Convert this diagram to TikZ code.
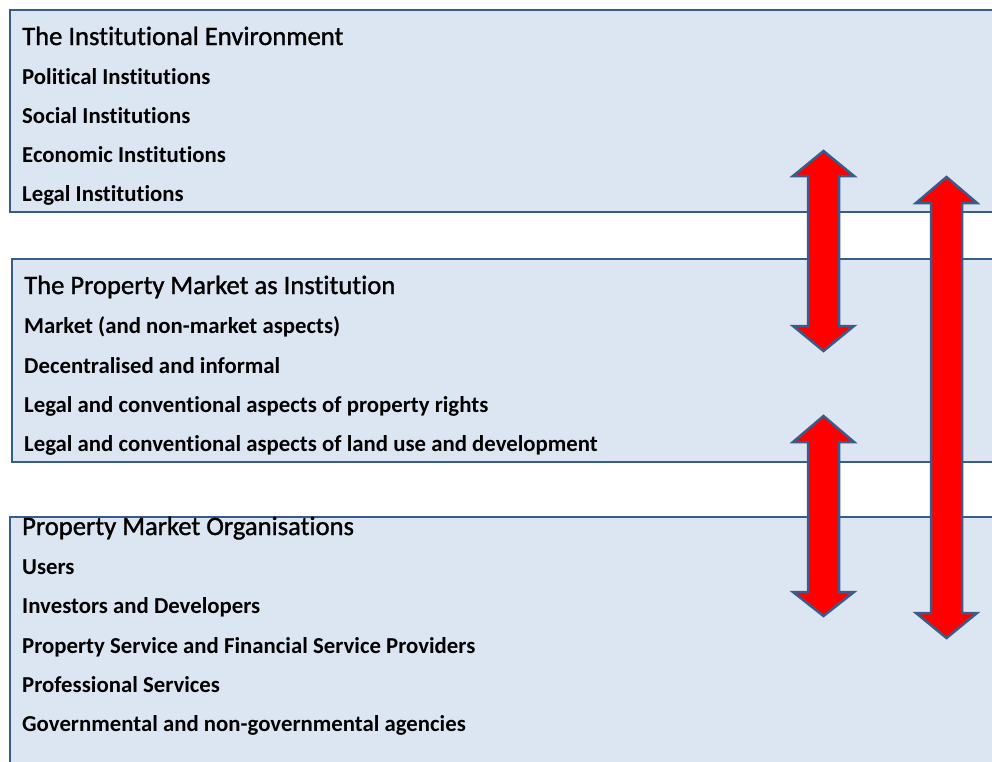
\documentclass[tikz,border=0pt]{standalone}
\usepackage{fontspec}
\setmainfont{Carlito}[Ligatures={NoCommon}]
\newfontfamily\titlefont[FakeBold=1.2,Ligatures={NoCommon}]{Carlito}
\definecolor{boxfill}{HTML}{DCE6F2}
\definecolor{boxline}{HTML}{385D8A}
\newcommand{\twoarrow}[5]{%
  \draw[dblarrow] (#1,#2) -- ({#1+30.5},#3) -- ({#1+15.5},#3) -- ({#1+15.5},#4)
    -- ({#1+30.5},#4) -- (#1,#5) -- ({#1-30.5},#4) -- ({#1-15.5},#4)
    -- ({#1-15.5},#3) -- ({#1-30.5},#3) -- cycle;}
\begin{document}
\begin{tikzpicture}[x=1pt,y=-1pt,
  panel/.style={draw=boxline, line width=2pt, fill=boxfill, inner sep=0pt, anchor=north west},
  titletext/.style={anchor=base west, inner sep=0pt, font=\titlefont\fontsize{26.6}{30}\selectfont},
  itemtext/.style={anchor=base west, inner sep=0pt, font=\fontsize{22.8}{26}\selectfont\bfseries},
  dblarrow/.style={draw=boxline, line width=2.5pt, fill=red, line join=miter}]
\useasboundingbox (0,0) rectangle (992,761);
\clip (0,0) rectangle (992,761);
\fill[white] (0,0) rectangle (992,761);
% panels
\node[panel, minimum width=1010pt, minimum height=202pt] (envbox) at (9,9) {};
\node[panel, minimum width=1010pt, minimum height=203pt] (mktbox) at (11,258) {};
\node[panel, minimum width=1010pt, minimum height=270pt] (orgbox) at (9,516) {};
% panel 1
\node[titletext] (t1) at (22,45) {The Institutional Environment};
\node[itemtext] (a1) at (22,84.5) {Political Institutions};
\node[itemtext] (a2) at (22,123.5) {Social Institutions};
\node[itemtext] (a3) at (22,162.5) {Economic Institutions};
\node[itemtext] (a4) at (22,201.5) {Legal Institutions};
% panel 2
\node[titletext] (t2) at (24,294) {The Property Market as Institution};
\node[itemtext] (b1) at (24,333.5) {Market (and non-market aspects)};
\node[itemtext] (b2) at (24,373.5) {Decentralised and informal};
\node[itemtext] (b3) at (24,412.5) {Legal and conventional aspects of property rights};
\node[itemtext] (b4) at (24,451.5) {Legal and conventional aspects of land use and development};
% panel 3
\node[titletext] (t3) at (22,535) {Property Market Organisations};
\node[itemtext] (c1) at (22,574.5) {Users};
\node[itemtext] (c2) at (22,613.5) {Investors and Developers};
\node[itemtext] (c3) at (22,653.5) {Property Service and Financial Service Providers};
\node[itemtext] (c4) at (22,692.5) {Professional Services};
\node[itemtext] (c5) at (22,731.5) {Governmental and non-governmental agencies};
% arrows
\twoarrow{823.5}{151}{176}{326}{351}
\twoarrow{946.5}{177}{203}{613}{638}
\twoarrow{823.5}{416}{442}{592}{616}
\end{tikzpicture}
\end{document}
